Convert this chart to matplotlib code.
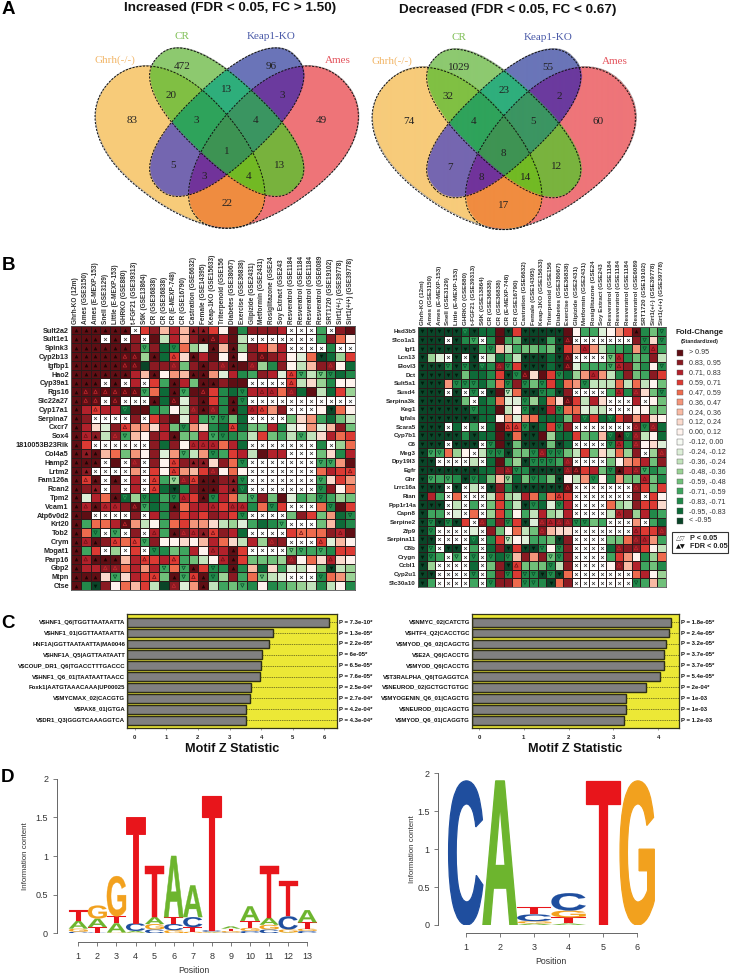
import numpy as np
import matplotlib
matplotlib.use("Agg")
import matplotlib.pyplot as plt
from matplotlib.colors import ListedColormap, to_rgba
from matplotlib.patches import Polygon, Rectangle, PathPatch
from matplotlib.textpath import TextPath
from matplotlib.font_manager import FontProperties
from matplotlib.transforms import Affine2D, blended_transform_factory

W, H = 730, 975
plt.rcParams['font.family'] = ['Liberation Sans', 'DejaVu Sans']

# ---------------------------------------------------------------- venn data
TITLE_UP = "Increased (FDR < 0.05, FC > 1.50)"
TITLE_DOWN = "Decreased (FDR < 0.05, FC < 0.67)"
SET_NAMES = ["Ghrh(-/-)", "CR", "Keap1-KO", "Ames"]
VENN_UP = [472, 96, 20, 13, 3, 83, 3, 4, 49, 1, 5, 13, 3, 4, 22]
VENN_DOWN = [1029, 55, 32, 23, 2, 74, 4, 5, 60, 8, 7, 12, 8, 14, 17]

# ---------------------------------------------------------------- heatmap data
COL_LABELS = ["Ghrh-KO (12m)", "Ames (GSE3150)", "Ames (E-MEXP-153)", "Snell (GSE3129)",
              "Little (E-MEXP-153)", "GHRKO (GSE880)", "t-FGF21 (GSE39313)", "S6K (GSE13864)",
              "CR (GSE36838)", "CR (GSE36838)", "CR (E-MEXP-748)", "CR (GSE16790)",
              "Castration (GSE6632)", "Female (GSE14395)", "Keap-1KO (GSE15633)",
              "Triterpenoid (GSE156", "Diabetes (GSE38067)", "Exercise (GSE36838)",
              "Glipizide (GSE2431)", "Metformin (GSE2431)", "Rosiglitazone (GSE24",
              "Soy Extract (GSE243", "Resveratrol (GSE1184", "Resveratrol (GSE1184",
              "Resveratrol (GSE1184", "Resveratrol (GSE6089", "SRT1720 (GSE19102)",
              "Sirt1(+/-) (GSE39778)", "Sirt1(+/+) (GSE39778)"]
LEFT_GENES = ["Sult2a2", "Sult1e1", "Spink3", "Cyp2b13", "Igfbp1", "Hao2", "Cyp39a1", "Rgs16",
              "Slc22a27", "Cyp17a1", "Serpina7", "Cxcr7", "Sox4", "1810053B23Rik", "Col4a5",
              "Hamp2", "Lrtm2", "Fam126a", "Rcan2", "Tpm2", "Vcam1", "Atp6v0d2", "Krt20", "Tob2",
              "Crym", "Mogat1", "Parp16", "Gbp2", "Mtpn", "Ctse"]
RIGHT_GENES = ["Hsd3b5", "Slco1a1", "Igf1", "Lcn13", "Elovl3", "Dct", "Sult5a1", "Susd4",
               "Serpina3k", "Keg1", "Igfals", "Scara5", "Cyp7b1", "C6", "Meg3", "Dpy19l3", "Egfr",
               "Ghr", "Lrrc16a", "Rian", "Ppp1r14a", "Capn8", "Serpine2", "Zfp9", "Serpina11",
               "C8b", "Crygn", "Ccbl1", "Cyp2u1", "Slc30a10"]
# one token per cell: fold-change bin (i..a reds, A..I greens, x = no data)
# + mark (^ v filled FDR, u n open P)
LEFT_CELLS = [
 "i^ i^ i^ i^ i^ i^ x f h c g c h^ h^ f a i G h h h g x x x F x h i",
 "i^ i^ i^ x i^ x h x i C g c h i^ iu g i C x x x x x x x F h e a",
 "i^ i^ i^ i^ i^ i^ h Fn h H Gn e D B i^ c i^ D h f d g x x x x G x x",
 "i^ i^ i^ i^ i^ iu iu D i^ H fu b i^ g i a i^ a h iu h g a B e Iv H D f",
 "i^ i^ i^ i^ i^ iu iu I h h hu E h i^ h hu i^ i hu D G h a C c h hu a H",
 "i^ i^ i^ i^ i^ i^ g c i^ a d c i^ i^ d B g G F h g B fu Fn C En Gn H G",
 "i^ i^ i^ x i^ x g x f F i^ g E i^ i^ h i i x x x x fu C b D G a a",
 "i^ iu iu iu iu iu iu Fn e H i^ Fn i iu f G H Gn g gu gu e hu H i C H f D",
 "i^ iu iu x iu x x x i^ H iu B h i^ f G i^ Gn x x x x x x x x x x x",
 "i^ g fu g g Hn i i G F a C hu i^ hu G i^ H gu fu d h x x x a Iv e a",
 "i^ h x x x x h x f h i B g F Fn Gn E H x x x x E b d F H E C",
 "i^ g b B h fu d d b g E Gn d b G H fu H E E g G B a d B c h E",
 "i^ gu h^ C hu Fn c a h g i^ E E g Fn Gn G F C f E F C Fn C b g e f",
 "i^ f x x x x x x h H h a gu gu gu e g H x x x x x x x G x D e",
 "i^ h^ i^ c e E d a h B d Fn C d Gn F f g C i g g x x x E b G g",
 "i^ i^ i^ x i x hu x h a fu h h^ h^ b h e Gn x x x x x x x Fn Fn d i",
 "i^ h^ x x x x d x f a fu d c f hu a e a x x x x x x x e g f fu",
 "i^ fu i^ x i^ x g x fu F Dn hu fu i^ i^ h h^ Gn x x x x x x x Fn b f d",
 "i^ h h^ x h x g x fu H Iv G h i^ i^ g h^ Hn x x x x x x x Gn h a e",
 "i^ B g e i^ Hn D Gn H F Gn gu f i^ Gn g e E Fn h E i B F E Gn F D E",
 "i^ gu i^ gu gu h iu Fn H G i^ e g g gu f gu gu G e Gn f x x x e Gn i f",
 "i^ i x x x x h x g G h f g f h g f Gn x x x x E h f E d H Gn",
 "i^ F e e g iu d C a F e f d d b C D B F H G Fn x x x E c H G",
 "i^ e Gn x Fn x h x gu F i^ hu gu h^ fu h g H x x x x f eu e e h gu i",
 "i^ gu i^ h fu e fu Fn h a a b a c g e b C g D hu h x x x fu B c a",
 "i^ F f x D x f x Gn G E F g a gu g i^ f x x x x En Fn F Fn G f f",
 "i^ gu i^ i^ i^ c g fu f g fu F E C a gu i^ f E E E D hu a e b gu b a",
 "i^ g g hu hu e g d g Fn e Fn i^ f Gn G i^ G c H b F B C a E Iv C D",
 "i^ i^ i^ b Fn b g f fu E i^ Fn fu i^ Gn D h F e En C B x x x Gn e d D",
 "i^ G Iv h a e c f C I hu B d i^ C F E Fn G a G F E D C G C a G",
]
RIGHT_CELLS = [
 "Iv Iv Iv Iv Iv Hn Iv H H i Iv f Iv Iv Iv Iv Iv i a F F B a d f i^ G E Gn",
 "Iv Iv Iv x Iv G Fn x G i F E Iv Iv Iv F Iv iu x x x x x x x h Gn b Gn",
 "Iv Iv Iv Iv Iv Iv Iv F Gn c C F E E F E Iv f d gu d C F F G d Gn gu F",
 "Iv D B x Iv x Iv x C H F C Iv Iv Iv H Iv iu x x x x En gu G E F h C",
 "Iv Iv Iv Gn Iv Gn Iv Hn G hu Gn f Iv Iv Iv H Iv iu B F F F Fn gu h E G a Gn",
 "Iv Iv Iv Iv Iv E H H G f Iv Gn iu b i f Gn H D d gu d C G h E F h f",
 "Iv Iv Iv d Gn Gn Gn H F e Gn h Gn E Gn f H e d Gn C C C e C e C a E",
 "Iv Iv Iv x Iv x Gn x Iv i Cn e Iv Iv Gn G Iv h x x x x F gu G hu b E Gn",
 "Iv Iv Iv Iv Iv E x H G e B B Gn D H e b iu f C g b x x x g x a E",
 "Iv Iv Iv Iv Iv Iv Gn H H i C a Gn Iv Iv g Gn e e B C C x x x a a E E",
 "Iv Iv Iv Iv Iv Iv Iv H H a d B d e H H H E g Hn f H Hn f h d g b a",
 "Iv Iv Iv x H x F x H i fu fu Gn Iv H f Gn h x x x x x x x hu Gn hu H",
 "Iv Iv Iv Iv Iv G Iv H H i Iv e Iv Iv i D H H f E F c Hn i^ Hn hu C a H",
 "Iv Iv Iv x Iv Iv Iv x Gn i Iv E Iv Iv Iv E Iv H x x x x Gn gu G hu a b B",
 "Iv Fn Fn e D a x C Gn Gn Iv E E Gn hu Gn Gn E C f E b C e D h x D hu",
 "Iv Iv x x x x C x H i F D Iv Gn Gn Gn F hu x x x x E a d e g E h",
 "Iv Iv Iv Iv Iv Iv Iv H H h hu Gn G Iv Iv Iv Iv hu iu f g E Gn i^ g hu Fn G F",
 "Iv Fn F Fn G Iv Gn H E c Dn H E Gn G E Iv a C d Gn a G d E E gu E G",
 "Iv Iv Iv x Iv x C x Iv h G Iv Iv Iv Iv Iv Iv iu x x x x x x x hu f E f",
 "Iv g F x e x x x C f D C g e G e fu f x x x x x x x h x f a",
 "Iv Iv Iv x C x F x E f F C Iv Gn H B Gn g x x x x e D C h f f b",
 "Iv F F x B x e x D f F a F C g D C g x x x x C gu h D g G F",
 "Iv Gn Iv Gn Iv f x hu G h Gn f Iv B hu gu hu hu Gn Gn E F x x x d x F H",
 "Iv Gn x x x x B x h E a e C E hu c b b x x x x x x x gu f f hu",
 "Iv Iv x x x x Hn x G f Cn a B F F E Iv h x x x x E E e hu gu d F",
 "Iv Gn x Iv Iv x F x H h Iv f Iv Iv Gn a Gn h x x x x H hu h hu f a C",
 "Iv Gn F x Fn x Gn x Gn H Gn c h d h En Gn h x x x x F f d a G D e",
 "Iv D x x x x H x E h Iv fu E E E Gn C h x x x x a hu c g F E G",
 "Iv Iv x x x x Gn x F h Gn f Gn Gn Iv Gn Iv e x x x x x x x e g a D",
 "Iv F x x x x F x Gn h h e Gn Gn G Iv e h x x x x x x x Gn F c E",
]
BIN_KEYS = "ihgfedcbaABCDEFGHI"
BIN_LABELS = ["> 0.95", "0.83, 0.95", "0.71, 0.83", "0.59, 0.71", "0.47, 0.59", "0.36, 0.47",
              "0.24, 0.36", "0.12, 0.24", "0.00, 0.12", "-0.12, 0.00", "-0.24, -0.12",
              "-0.36, -0.24", "-0.48, -0.36", "-0.59, -0.48", "-0.71, -0.59", "-0.83, -0.71",
              "-0.95, -0.83", "< -0.95"]
BIN_COLORS = ["#5F0E14", "#8A1A22", "#B2212B", "#DC3A33", "#EE6B4E", "#F4957A", "#F9BAA4",
              "#FBDACD", "#FFF3EE", "#F6FAF3", "#DDEFD8", "#C1E3BB", "#9AD295", "#70C07A",
              "#3FA55F", "#22894A", "#0E6A38", "#0A4528"]

# ---------------------------------------------------------------- motif data
UP_MOTIFS = ["V$HNF1_Q6|TGGTTAATAATTA", "V$HNF1_01|GGTTAATAATTA", "HNF1A|GGTTAATAATTA|MA0046",
             "V$HNF1A_Q5|AGTTAATAATT", "V$COUP_DR1_Q6|TGACCTTTGACCC", "V$HNF1_Q6_01|TAATAATTAACC",
             "Foxk1|AATGTAAACAAA|UP00025", "V$MYCMAX_02|CACGTG", "V$PAX8_01|GTGA",
             "V$DR1_Q3|GGGTCAAAGGTCA"]
UP_Z = [6.15, 4.38, 4.24, 4.02, 4.00, 3.96, 3.67, 3.65, 3.53, 3.53]
UP_P = ["P = 7.3e-10*", "P = 1.3e-05*", "P = 2.2e-05*", "P = 6e-05*", "P = 6.5e-05*",
        "P = 7.6e-05*", "P = 2.5e-04*", "P = 2.7e-04*", "P = 4.2e-04*", "P = 4.3e-04*"]
DOWN_MOTIFS = ["V$NMYC_02|CATCTG", "V$HTF4_Q2|CACCTGC", "V$MYOD_Q6_02|CAGCTG", "V$E2A_Q6|CACCTG",
               "V$MYOD_Q6|CACCTG", "V$T3RALPHA_Q6|TGAGGTCA", "V$NEUROD_02|GCTGCTGTGC",
               "V$MYOGENIN_Q6_01|CAGCTG", "V$NEUROD_01|CAGCTG", "V$MYOD_Q6_01|CAGGTG"]
DOWN_Z = [4.29, 4.23, 4.17, 4.13, 4.13, 4.03, 3.72, 3.29, 3.29, 3.24]
DOWN_P = ["P = 1.8e-05*", "P = 2.4e-05*", "P = 3.2e-05*", "P = 3.7e-05*", "P = 3.7e-05*",
          "P = 5.4e-05*", "P = 2e-04*", "P = 1e-03", "P = 1e-03", "P = 1.2e-03"]

# ---------------------------------------------------------------- logo data (bottom to top)
LOGO_13 = [
 [("C", .02), ("G", .04), ("A", .10), ("T", .14)],
 [("C", .01), ("T", .07), ("A", .11), ("G", .17)],
 [("G", .01), ("A", .12), ("T", .09), ("G", .52)],
 [("G", .01), ("A", .02), ("C", .10), ("T", 1.37)],
 [("C", .05), ("G", .07), ("A", .09), ("T", .66)],
 [("G", .04), ("C", .08), ("T", .09), ("A", .79)],
 [("G", .02), ("T", .06), ("C", .13), ("A", .41)],
 [("A", .01), ("G", .01), ("C", .02), ("T", 1.74)],
 [("C", .01), ("G", .02), ("T", .03), ("A", .03)],
 [("C", .03), ("G", .04), ("T", .09), ("A", .19)],
 [("C", .05), ("G", .06), ("A", .09), ("T", .67)],
 [("A", .01), ("G", .04), ("C", .17), ("T", .46)],
 [("C", .03), ("G", .03), ("T", .08), ("A", .16)],
]
LOGO_6 = [
 [("C", 1.9)],
 [("A", 1.9)],
 [("A", .02), ("G", .03), ("C", .09), ("T", .10)],
 [("A", .02), ("T", .08), ("G", .09), ("C", .23)],
 [("T", 1.9)],
 [("G", 1.9)],
]
BASE_COLORS = {"A": "#6DB52E", "C": "#1F4E9E", "G": "#F2A11E", "T": "#E8151B"}

bad = [(n, i, len(r.split())) for n, rows in (("L", LEFT_CELLS), ("R", RIGHT_CELLS))
       for i, r in enumerate(rows) if len(r.split()) != 29]
if bad:
    raise SystemExit(f"bad rows {bad}")

fig = plt.figure(figsize=(W / 100, H / 100), dpi=100, facecolor="white")


def ax_px(x0, y0, x1, y1, **kw):
    return fig.add_axes([x0 / W, 1 - y1 / H, (x1 - x0) / W, (y1 - y0) / H], **kw)


ov = fig.add_axes([0, 0, 1, 1], zorder=0)
ov.set_axis_off()

# ---------------------------------------------------------------- A: venn
REGION_COLORS = {
    (1, 0, 0, 0): "#F7CB7A", (0, 1, 0, 0): "#8DC970", (0, 0, 1, 0): "#6A75B8", (0, 0, 0, 1): "#EE7579",
    (1, 1, 0, 0): "#80C043", (0, 1, 1, 0): "#2FAE7C", (0, 0, 1, 1): "#6B3A9E", (1, 0, 1, 0): "#7566B0",
    (0, 1, 0, 1): "#79B33E", (1, 0, 0, 1): "#F08C40", (1, 1, 1, 0): "#2FA35B", (0, 1, 1, 1): "#3B9562",
    (1, 0, 1, 1): "#71339B", (1, 1, 0, 1): "#72BA24", (1, 1, 1, 1): "#3E9353",
}
# dx, dy, long half-axis, short half-axis, angle, roundness exponent, taper, mirror
VENN_SHAPES = [(-44.2, -1.5, 100, 57, 42.3, 2.15, 0.15, 1), (0, -29.5, 95, 40, 43.3, 2.4, 0.0, 1),
               (0, -29.5, 95, 40, -43.3, 2.4, 0.0, -1), (44.2, -1.5, 100, 57, -42.3, 2.15, 0.15, -1)]
VENN_OFFS = [(-44.7, -85), (44.3, -85), (-56, -56.7), (0, -62.3), (56, -56.7), (-95, -31),
             (-30, -31), (29, -31), (94.3, -31), (0, 0), (-53.7, 14), (53.3, 13.3),
             (-22.7, 25), (21.7, 25), (0, 52.3)]
NAME_COLORS = ["#F2B76A", "#7FBF55", "#4A5AA8", "#E4555E"]
NAME_OFFS = [(-111.7, -91.5), (-44.7, -115.5), (44.3, -115.5), (111, -91.5)]


def draw_venn(cx, cy, counts):
    xs = np.arange(cx - 140, cx + 140, 0.5)
    ys = np.arange(cy - 110, cy + 90, 0.5)
    X, Y = np.meshgrid(xs, ys)
    masks, outlines = [], []
    for dx, dy, a, b, ang, n, k, mir in VENN_SHAPES:
        t = np.deg2rad(ang)
        # long axis points from the top of the shape towards the bottom
        ux, uy = mir * np.cos(t) * np.sign(np.cos(t)), abs(np.sin(t))
        vx, vy = -uy, ux
        rx, ry = X - cx - dx, Y - cy - dy
        u = rx * ux + ry * uy
        v = rx * vx + ry * vy
        w = b * (1 - k * u / a)
        masks.append(np.abs(u / a) ** n + np.abs(v / w) ** n <= 1)
        th = np.linspace(0, 2 * np.pi, 361)
        pu = a * np.sign(np.cos(th)) * np.abs(np.cos(th)) ** (2 / n)
        pv = b * (1 - k * pu / a) * np.sign(np.sin(th)) * np.abs(np.sin(th)) ** (2 / n)
        outlines.append(np.c_[cx + dx + pu * ux + pv * vx, cy + dy + pu * uy + pv * vy])
    img = np.zeros(X.shape + (4,))
    for key, col in REGION_COLORS.items():
        m = np.ones(X.shape, bool)
        for kk, mask in zip(key, masks):
            m &= mask if kk else ~mask
        img[m] = to_rgba(col)
    ov.imshow(img, extent=(xs[0], xs[-1], ys[-1], ys[0]), aspect="auto", interpolation="bilinear")
    for pts in outlines:
        ov.add_patch(Polygon(pts, closed=True, fc="none", ec="#111111", lw=0.7, ls=(0, (2.2, 1.4))))
    for (ox, oy), nval in zip(VENN_OFFS, counts):
        ov.text(cx + ox, cy + oy, str(nval), ha="center", va="center", fontsize=8,
                family="Liberation Serif", color="#222222")
    for (ox, oy), name, col in zip(NAME_OFFS, SET_NAMES, NAME_COLORS):
        ov.text(cx + ox, cy + oy, name, ha="center", va="center", fontsize=8,
                family="Liberation Serif", color=col)


draw_venn(226.7, 151.7, VENN_UP)
draw_venn(503.7, 153.0, VENN_DOWN)
ov.text(229.7, 8, TITLE_UP, ha="center", va="center", fontsize=9.7, fontweight="bold", color="#111111")
ov.text(508, 9.7, TITLE_DOWN, ha="center", va="center", fontsize=9.7, fontweight="bold", color="#111111")
for letter, lx, ly in (("A", 1.5, 10), ("B", 1.5, 266), ("C", 1.5, 624), ("D", 0.5, 778)):
    ov.text(lx, ly, letter, ha="left", va="center", fontsize=13.5, fontweight="bold", color="black")


# ---------------------------------------------------------------- B: heatmaps
def draw_heat(rect, cells, genes, glab, clab):
    ax = ax_px(*rect, zorder=2)
    rows = [r.split() for r in cells]
    arr = np.zeros((len(rows), len(rows[0])))
    cmap = ListedColormap(BIN_COLORS + ["#FFFFFF"])
    for i, r in enumerate(rows):
        for j, tok in enumerate(r):
            arr[i, j] = 18 if tok[0] == "x" else BIN_KEYS.index(tok[0])
    ax.pcolormesh(np.arange(len(rows[0]) + 1), np.arange(len(rows) + 1), arr, cmap=cmap, vmin=-0.5,
                  vmax=18.5, edgecolors="#2A1A1A", linewidth=0.55)
    ax.set_xlim(0, len(rows[0]))
    ax.set_ylim(len(rows), 0)
    ax.tick_params(length=0, pad=1.5)
    ax.xaxis.tick_top()
    ax.set_xticks(np.arange(len(COL_LABELS)) + .5)
    ax.set_xticklabels(COL_LABELS, rotation=90, fontsize=clab, fontweight="bold", color="#333333",
                       ha="center", va="bottom")
    ax.set_yticks(np.arange(len(genes)) + .5)
    ax.set_yticklabels(genes, fontsize=glab, fontweight="bold", color="#222222")
    for s in ax.spines.values():
        s.set_linewidth(0.6)
        s.set_color("#555555")
    for i, r in enumerate(rows):
        for j, tok in enumerate(r):
            k = tok[0]
            if k == "x":
                ax.scatter(j + .5, i + .5, marker="x", s=4.5, c="#333333", linewidths=0.5)
            elif len(tok) > 1:
                m = tok[1]
                dark = k in "ihHI"
                if m == "^":
                    ax.scatter(j + .5, i + .5, marker="^", s=7, c="#1A0505", linewidths=0)
                elif m == "v":
                    ax.scatter(j + .5, i + .5, marker="v", s=7, c="#021A0C", linewidths=0)
                elif m == "u":
                    ax.scatter(j + .5, i + .5, marker="^", s=6.5, facecolors="none",
                               edgecolors="#C4282E" if dark else "#6E1016", linewidths=0.5)
                elif m == "n":
                    ax.scatter(j + .5, i + .5, marker="v", s=6.5, facecolors="none",
                               edgecolors="#2B9A55" if dark else "#07502A", linewidths=0.5)
    return ax


draw_heat((71, 325.6, 355, 590), LEFT_CELLS, LEFT_GENES, 5.2, 4.7)
draw_heat((418, 327, 666, 587), RIGHT_CELLS, RIGHT_GENES, 4.5, 4.5)

ov.text(699.5, 332, "Fold-Change", ha="center", va="center", fontsize=5.7, fontweight="bold", color="#222222")
ov.text(699.5, 341, "(Standardized)", ha="center", va="center", fontsize=3.9, fontweight="bold", color="#222222")
for i, (lab, col) in enumerate(zip(BIN_LABELS, BIN_COLORS)):
    y = 352.7 + i * 9.9
    ov.add_patch(Rectangle((677, y - 2.8), 6, 5.6, fc=col, ec="#555555", lw=0.3))
    ov.text(689, y, lab, ha="left", va="center", fontsize=5.1, color="#333333")
ov.add_patch(Rectangle((672, 532), 56, 21, fc="white", ec="#333333", lw=0.8))
ov.text(676, 538, "\u25b3\u25bd", ha="left", va="center", fontsize=4.6, color="#444444", family="DejaVu Sans")
ov.text(676, 547, "\u25b2\u25bc", ha="left", va="center", fontsize=4.6, color="#111111", family="DejaVu Sans")
ov.text(690, 538, "P < 0.05", ha="left", va="center", fontsize=5.3, fontweight="bold", color="#222222")
ov.text(690, 547, "FDR < 0.05", ha="left", va="center", fontsize=5.3, fontweight="bold", color="#222222")


# ---------------------------------------------------------------- C: motif bars
def draw_bars(rect, xlim, labels, z, ptxt, xticks):
    ax = ax_px(*rect, zorder=2, facecolor="#ECE836")
    y = np.arange(len(z))
    ax.set_xlim(*xlim)
    ax.set_ylim(9.72, -0.75)
    z = np.array(z)
    ax.hlines(y, z, xlim[1], colors="#55551A", linewidth=0.5, linestyles=(0, (2, 1.2)))
    ax.barh(y, z - xlim[0], left=xlim[0], height=0.80, color="#808080", edgecolor="#2E2E14", linewidth=1.0)
    ax.set_yticks(y)
    tl = ax.set_yticklabels(labels, fontsize=4.3, fontweight="bold", color="#111111")
    for t in tl:
        t.set_parse_math(False)
    ax.tick_params(axis="y", length=0, pad=1.2)
    ax.tick_params(axis="x", length=1.5, width=0.4, pad=3.5, color="#555555")
    ax.set_xticks(xticks)
    ax.set_xticklabels([str(t) for t in xticks], fontsize=4.3, fontweight="bold", color="#222222")
    for s in ax.spines.values():
        s.set_linewidth(0.9)
        s.set_color("#33331A")
    tr = blended_transform_factory(ax.transAxes, ax.transData)
    for yy, p in zip(y, ptxt):
        ax.text(1.008, yy, p, transform=tr, ha="left", va="center", fontsize=4.3, fontweight="bold",
                color="#111111", parse_math=False, clip_on=False)
    ax.set_xlabel("Motif Z Statistic", fontsize=9.1, fontweight="bold", color="#111111", labelpad=2.5)
    return ax


draw_bars((127, 614, 337, 728), (-0.244, 6.40), UP_MOTIFS, UP_Z, UP_P, [0, 1, 2, 3, 4, 5, 6])
draw_bars((471.7, 614, 679.3, 728), (-0.163, 4.47), DOWN_MOTIFS, DOWN_Z, DOWN_P, [0, 1, 2, 3, 4])

# ---------------------------------------------------------------- D: sequence logos
LOGO_FONT = FontProperties(family="Liberation Sans", weight="bold")


def draw_logo(rect, xlim, stacks, out_pt):
    ax = ax_px(*rect, zorder=2)
    ax.patch.set_alpha(0)
    ax.set_xlim(*xlim)
    ax.set_ylim(0, 2)
    for pos, stack in enumerate(stacks, start=1):
        base = 0.0
        for ch, h in stack:
            tp = TextPath((0, 0), ch, size=1, prop=LOGO_FONT)
            bb = tp.get_extents()
            tf = Affine2D().translate(-bb.x0, -bb.y0).scale(1.0 / bb.width, h / bb.height) \
                .translate(pos - .5, base)
            ax.add_patch(PathPatch(tp.transformed(tf), fc=BASE_COLORS[ch], ec=BASE_COLORS[ch], lw=0.9 * h / 1.9))
            base += h
    n = len(stacks)
    for s in ("top", "right"):
        ax.spines[s].set_visible(False)
    ax.spines["bottom"].set_position(("outward", out_pt))
    ax.spines["bottom"].set_bounds(1, n)
    ax.spines["left"].set_bounds(0, 2)
    for s in ("bottom", "left"):
        ax.spines[s].set_color("#666666")
        ax.spines[s].set_linewidth(0.7)
    ax.set_xticks(range(1, n + 1))
    ax.set_yticks([0, .5, 1, 1.5, 2])
    ax.set_yticklabels(["0", "0.5", "1", "1.5", "2"], fontsize=6.5, color="#333333")
    ax.tick_params(axis="both", length=3.2, width=0.6, color="#666666", labelsize=6.5, labelcolor="#333333")
    ax.tick_params(axis="x", pad=4)
    ax.tick_params(axis="y", pad=3)
    ax.set_xlabel("Position", fontsize=6.3, color="#333333", va="center")
    ax.set_ylabel("Information content", fontsize=5.7, color="#333333", va="center")
    ax.xaxis.set_label_coords(0.52, -0.243)
    ax.yaxis.set_label_coords(-0.12, 0.5)
    return ax


draw_logo((56.7, 778.7, 320, 933.3), (-0.132, 13.67), LOGO_13, 6.0)
draw_logo((438.3, 773.3, 655, 925), (0.2, 6.52), LOGO_6, 6.0)

ov.set_xlim(0, W)
ov.set_ylim(H, 0)
fig.savefig("out.png", dpi=100, facecolor="white")
